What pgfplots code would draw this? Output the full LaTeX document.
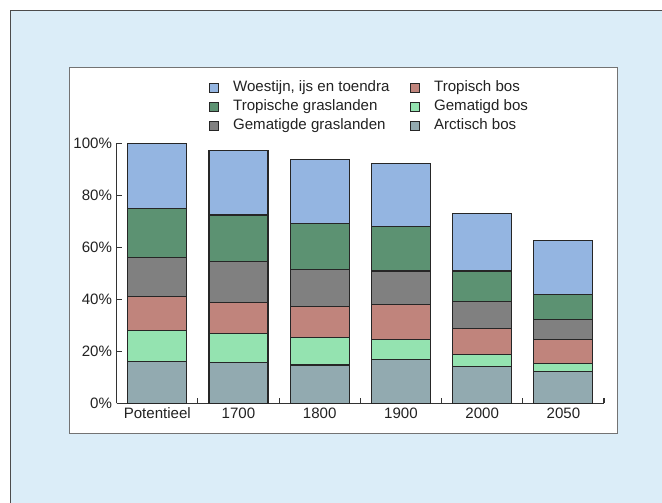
\documentclass[border=0pt]{standalone}
\usepackage{pgfplots}
\pgfplotsset{compat=1.18}
\usepackage{pgfplotstable}
\usepackage{fontspec}
\setmainfont{Liberation Sans}

\definecolor{bgblue}{HTML}{DBEDF8}
\definecolor{cWoest}{HTML}{94B5E1}
\definecolor{cTropGras}{HTML}{5C9272}
\definecolor{cGemGras}{HTML}{808080}
\definecolor{cTropBos}{HTML}{C0847C}
\definecolor{cGemBos}{HTML}{94E3B0}
\definecolor{cArct}{HTML}{92AAB0}
\definecolor{txt}{HTML}{222222}

% shares per biome, stacked from the bottom up
\pgfplotstableread{
x Arct GemBos TropBos GemGras TropGras Woest
0 16   12   13   15   19   25
1 15.8 11.1 11.9 15.6 18.0 24.7
2 14.7 10.6 12.0 14.0 17.9 24.6
3 16.7 7.9  13.3 13.0 17.0 24.2
4 14.2 4.5  10.1 10.2 11.9 22.2
5 12.2 3.1  9.1  7.9  9.6  20.7
}\biomes

\begin{document}
\begin{tikzpicture}
\useasboundingbox (0,0) rectangle (496.5pt,377.25pt);
\clip (0,0) rectangle (496.5pt,377.25pt);
\fill[white] (0,0) rectangle (496.5pt,377.25pt);
\filldraw[fill=bgblue, draw=black!70, line width=0.8pt] (7.9pt,-10pt) rectangle (510pt,369.4pt);
\filldraw[fill=white, draw=black!55, line width=0.6pt] (51.75pt,52.5pt) rectangle (462.75pt,327pt);

\begin{axis}[
    at={(87.5pt,74.8pt)}, anchor=south west,
    scale only axis,
    width=365.5pt, height=195pt,
    xmin=-0.5, xmax=5.5,
    ymin=0, ymax=100,
    ybar stacked,
    bar width=44.25pt,
    axis x line=bottom, axis y line=left,
    axis line style={-, draw=black!80, line width=0.9pt},
    tick align=inside,
    major tick length=4pt, minor tick length=4pt,
    tick style={draw=black!80, line width=0.8pt},
    every major x tick/.append style={draw=none},
    xtick={0,...,5},
    xticklabels={Potentieel,1700,1800,1900,2000,2050},
    minor xtick={0.5,1.5,2.5,3.5,4.5,5.5},
    ytick={0,20,40,60,80,100},
    yticklabels={0\%,20\%,40\%,60\%,80\%,100\%},
    tick label style={font=\fontsize{11.3}{13}\selectfont, text=txt},
    every axis plot/.append style={draw=black!85, line width=0.9pt},
    lbox/.style={legend image code/.code={\draw[##1, draw=black!85, line width=0.6pt] (0pt,-3.3pt) rectangle (6.6pt,3.3pt);}},
    legend columns=2,
    legend cell align=left,
    legend style={
        at={(0.181,1.255)}, anchor=north west,
        draw=none, fill=none,
        font=\fontsize{11.3}{13}\selectfont, text=txt,
        nodes={inner sep=1pt, text height=8pt, text depth=2.5pt},
        row sep=1.6pt,
        /tikz/every odd column/.append style={column sep=9.8pt},
        /tikz/every even column/.append style={column sep=14.5pt},
    },
]
\addlegendimage{fill=cWoest, lbox}
\addlegendentry{Woestijn, ijs en toendra}
\addlegendimage{fill=cTropBos, lbox}
\addlegendentry{Tropisch bos}
\addlegendimage{fill=cTropGras, lbox}
\addlegendentry{Tropische graslanden}
\addlegendimage{fill=cGemBos, lbox}
\addlegendentry{Gematigd bos}
\addlegendimage{fill=cGemGras, lbox}
\addlegendentry{Gematigde graslanden}
\addlegendimage{fill=cArct, lbox}
\addlegendentry{Arctisch bos}

\addplot[fill=cArct] table[x=x, y=Arct] {\biomes};
\addplot[fill=cGemBos] table[x=x, y=GemBos] {\biomes};
\addplot[fill=cTropBos] table[x=x, y=TropBos] {\biomes};
\addplot[fill=cGemGras] table[x=x, y=GemGras] {\biomes};
\addplot[fill=cTropGras] table[x=x, y=TropGras] {\biomes};
\addplot[fill=cWoest] table[x=x, y=Woest] {\biomes};
\end{axis}
\end{tikzpicture}
\end{document}
